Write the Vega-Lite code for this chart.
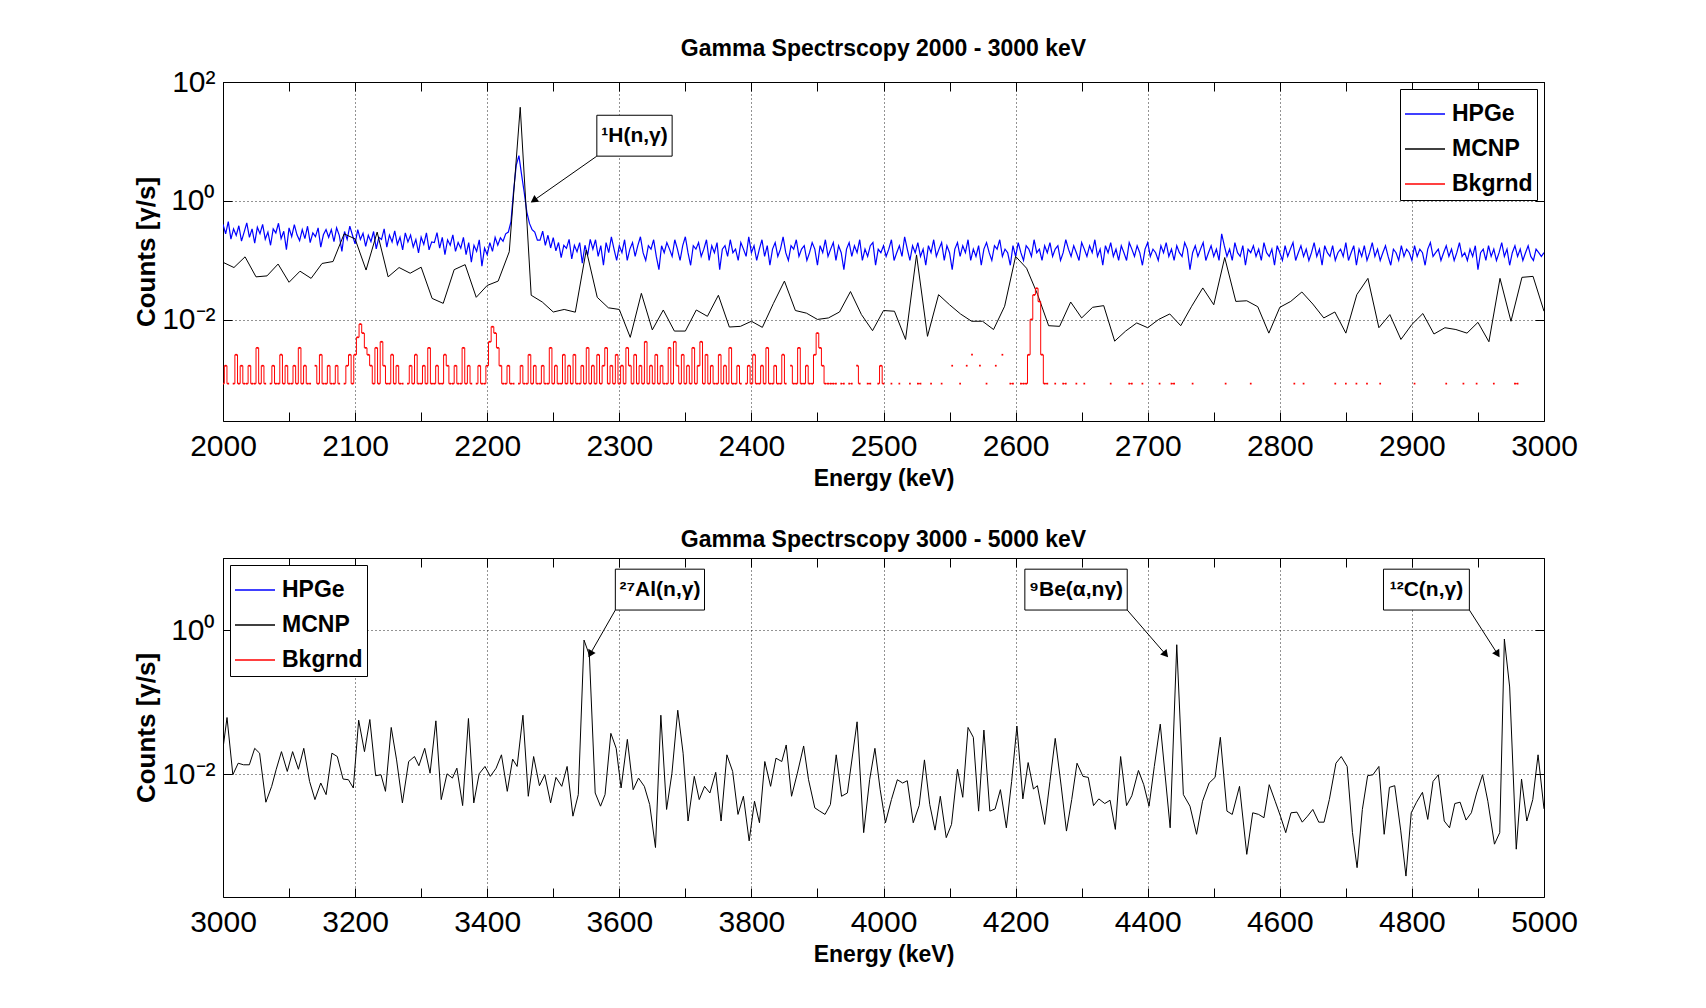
{
"$schema": "https://vega.github.io/schema/vega-lite/v6.json",
"background": "white",
"padding": {"left": 133, "top": 37, "right": 10, "bottom": 10},
"spacing": 37,
"config": {
 "font": "Liberation Sans",
 "view": {"stroke": "#000", "strokeWidth": 1},
 "axis": {"domain": false, "labelFont": "Liberation Sans", "labelFontSize": 30, "labelColor": "#000", "labelFlush": false, "labelOverlap": false, "tickColor": "#000", "tickSize": -9, "tickWidth": 1, "gridColor": "#000", "gridDash": [1, 3], "gridWidth": 1, "titleFont": "Liberation Sans", "titleFontWeight": "bold", "titleFontSize": 23, "titleColor": "#000"},
 "legend": {"title": null, "offset": 7, "strokeColor": "#000", "fillColor": "white", "padding": 4, "symbolType": "stroke", "symbolSize": 1600, "symbolStrokeWidth": 1.5, "labelFont": "Liberation Sans", "labelFontSize": 23, "labelFontWeight": "bold", "labelColor": "#000", "rowPadding": 2, "labelOffset": 6},
 "title": {"font": "Liberation Sans", "fontSize": 23, "fontWeight": "bold", "color": "#000", "offset": 6}
},
"datasets": {
"hpge": [
{"e":2000,"v":0.405},{"e":2002,"v":0.281},{"e":2004,"v":0.451},{"e":2006,"v":0.228},{"e":2008,"v":0.34},{"e":2010,"v":0.263},{"e":2012,"v":0.383},{"e":2014,"v":0.211},{"e":2016,"v":0.30},{"e":2018,"v":0.428},
{"e":2020,"v":0.245},{"e":2022,"v":0.34},{"e":2024,"v":0.195},{"e":2026,"v":0.361},{"e":2028,"v":0.281},{"e":2030,"v":0.405},{"e":2032,"v":0.228},{"e":2034,"v":0.30},{"e":2036,"v":0.18},{"e":2038,"v":0.34},
{"e":2040,"v":0.29},{"e":2042,"v":0.422},{"e":2044,"v":0.233},{"e":2046,"v":0.31},{"e":2048,"v":0.152},{"e":2050,"v":0.353},{"e":2052,"v":0.251},{"e":2054,"v":0.399},{"e":2056,"v":0.27},{"e":2058,"v":0.216},
{"e":2060,"v":0.331},{"e":2062,"v":0.233},{"e":2064,"v":0.376},{"e":2066,"v":0.199},{"e":2068,"v":0.29},{"e":2070,"v":0.251},{"e":2072,"v":0.353},{"e":2074,"v":0.167},{"e":2076,"v":0.27},{"e":2078,"v":0.331},
{"e":2080,"v":0.245},{"e":2082,"v":0.33},{"e":2084,"v":0.207},{"e":2086,"v":0.353},{"e":2088,"v":0.265},{"e":2090,"v":0.142},{"e":2092,"v":0.307},{"e":2094,"v":0.226},{"e":2096,"v":0.377},{"e":2098,"v":0.265},
{"e":2100,"v":0.19},{"e":2102,"v":0.33},{"e":2104,"v":0.226},{"e":2106,"v":0.286},{"e":2108,"v":0.173},{"e":2110,"v":0.265},{"e":2112,"v":0.207},{"e":2114,"v":0.307},{"e":2116,"v":0.157},{"e":2118,"v":0.245},
{"e":2120,"v":0.225},{"e":2122,"v":0.339},{"e":2124,"v":0.168},{"e":2126,"v":0.268},{"e":2128,"v":0.205},{"e":2130,"v":0.314},{"e":2132,"v":0.186},{"e":2134,"v":0.246},{"e":2136,"v":0.151},{"e":2138,"v":0.291},
{"e":2140,"v":0.205},{"e":2142,"v":0.268},{"e":2144,"v":0.168},{"e":2146,"v":0.225},{"e":2148,"v":0.134},{"e":2150,"v":0.246},{"e":2152,"v":0.186},{"e":2154,"v":0.291},{"e":2156,"v":0.151},{"e":2158,"v":0.205},
{"e":2160,"v":0.20},{"e":2162,"v":0.294},{"e":2164,"v":0.161},{"e":2166,"v":0.245},{"e":2168,"v":0.125},{"e":2170,"v":0.222},{"e":2172,"v":0.18},{"e":2174,"v":0.269},{"e":2176,"v":0.142},{"e":2178,"v":0.20},
{"e":2180,"v":0.161},{"e":2182,"v":0.245},{"e":2184,"v":0.125},{"e":2186,"v":0.20},{"e":2188,"v":0.094},{"e":2190,"v":0.18},{"e":2192,"v":0.142},{"e":2194,"v":0.222},{"e":2196,"v":0.08},{"e":2198,"v":0.161},
{"e":2200,"v":0.125},{"e":2202,"v":0.20},{"e":2204,"v":0.142},{"e":2206,"v":0.245},{"e":2208,"v":0.18},{"e":2210,"v":0.24},{"e":2212,"v":0.21},{"e":2214,"v":0.28},{"e":2216,"v":0.30},{"e":2218,"v":0.45},
{"e":2220,"v":1.5},{"e":2222,"v":4.0},{"e":2224,"v":5.8},{"e":2226,"v":2.8},{"e":2228,"v":1.4},{"e":2230,"v":0.65},{"e":2232,"v":0.42},{"e":2234,"v":0.33},{"e":2236,"v":0.30},{"e":2238,"v":0.22},
{"e":2240,"v":0.22},{"e":2242,"v":0.31},{"e":2244,"v":0.18},{"e":2246,"v":0.265},{"e":2248,"v":0.162},{"e":2250,"v":0.242},{"e":2252,"v":0.145},{"e":2254,"v":0.20},{"e":2256,"v":0.112},{"e":2258,"v":0.18},
{"e":2260,"v":0.16},{"e":2262,"v":0.226},{"e":2264,"v":0.106},{"e":2266,"v":0.18},{"e":2268,"v":0.14},{"e":2270,"v":0.20},{"e":2272,"v":0.09},{"e":2274,"v":0.18},{"e":2276,"v":0.122},{"e":2278,"v":0.226},
{"e":2280,"v":0.155},{"e":2282,"v":0.223},{"e":2284,"v":0.117},{"e":2286,"v":0.177},{"e":2288,"v":0.083},{"e":2290,"v":0.20},{"e":2292,"v":0.135},{"e":2294,"v":0.25},{"e":2296,"v":0.155},{"e":2298,"v":0.10},
{"e":2300,"v":0.177},{"e":2302,"v":0.135},{"e":2304,"v":0.223},{"e":2306,"v":0.10},{"e":2308,"v":0.155},{"e":2310,"v":0.20},{"e":2312,"v":0.117},{"e":2314,"v":0.177},{"e":2316,"v":0.25},{"e":2318,"v":0.135},
{"e":2320,"v":0.10},{"e":2322,"v":0.177},{"e":2324,"v":0.155},{"e":2326,"v":0.223},{"e":2328,"v":0.117},{"e":2330,"v":0.07},{"e":2332,"v":0.177},{"e":2334,"v":0.135},{"e":2336,"v":0.20},{"e":2338,"v":0.155},
{"e":2340,"v":0.117},{"e":2342,"v":0.223},{"e":2344,"v":0.155},{"e":2346,"v":0.10},{"e":2348,"v":0.177},{"e":2350,"v":0.25},{"e":2352,"v":0.135},{"e":2354,"v":0.083},{"e":2356,"v":0.177},{"e":2358,"v":0.155},
{"e":2360,"v":0.20},{"e":2362,"v":0.117},{"e":2364,"v":0.155},{"e":2366,"v":0.223},{"e":2368,"v":0.10},{"e":2370,"v":0.177},{"e":2372,"v":0.135},{"e":2374,"v":0.20},{"e":2376,"v":0.07},{"e":2378,"v":0.155},
{"e":2380,"v":0.177},{"e":2382,"v":0.117},{"e":2384,"v":0.223},{"e":2386,"v":0.135},{"e":2388,"v":0.155},{"e":2390,"v":0.10},{"e":2392,"v":0.20},{"e":2394,"v":0.155},{"e":2396,"v":0.117},{"e":2398,"v":0.25},
{"e":2400,"v":0.135},{"e":2402,"v":0.177},{"e":2404,"v":0.10},{"e":2406,"v":0.155},{"e":2408,"v":0.223},{"e":2410,"v":0.117},{"e":2412,"v":0.177},{"e":2414,"v":0.083},{"e":2416,"v":0.155},{"e":2418,"v":0.20},
{"e":2420,"v":0.117},{"e":2422,"v":0.155},{"e":2424,"v":0.25},{"e":2426,"v":0.135},{"e":2428,"v":0.10},{"e":2430,"v":0.177},{"e":2432,"v":0.155},{"e":2434,"v":0.223},{"e":2436,"v":0.117},{"e":2438,"v":0.155},
{"e":2440,"v":0.177},{"e":2442,"v":0.10},{"e":2444,"v":0.135},{"e":2446,"v":0.20},{"e":2448,"v":0.155},{"e":2450,"v":0.083},{"e":2452,"v":0.177},{"e":2454,"v":0.135},{"e":2456,"v":0.223},{"e":2458,"v":0.117},
{"e":2460,"v":0.155},{"e":2462,"v":0.20},{"e":2464,"v":0.10},{"e":2466,"v":0.177},{"e":2468,"v":0.135},{"e":2470,"v":0.07},{"e":2472,"v":0.155},{"e":2474,"v":0.20},{"e":2476,"v":0.117},{"e":2478,"v":0.177},
{"e":2480,"v":0.135},{"e":2482,"v":0.223},{"e":2484,"v":0.10},{"e":2486,"v":0.155},{"e":2488,"v":0.117},{"e":2490,"v":0.177},{"e":2492,"v":0.20},{"e":2494,"v":0.083},{"e":2496,"v":0.155},{"e":2498,"v":0.135},
{"e":2500,"v":0.177},{"e":2502,"v":0.117},{"e":2504,"v":0.155},{"e":2506,"v":0.223},{"e":2508,"v":0.10},{"e":2510,"v":0.135},{"e":2512,"v":0.177},{"e":2514,"v":0.117},{"e":2516,"v":0.25},{"e":2518,"v":0.155},
{"e":2520,"v":0.10},{"e":2522,"v":0.177},{"e":2524,"v":0.135},{"e":2526,"v":0.20},{"e":2528,"v":0.117},{"e":2530,"v":0.155},{"e":2532,"v":0.083},{"e":2534,"v":0.177},{"e":2536,"v":0.135},{"e":2538,"v":0.223},
{"e":2540,"v":0.117},{"e":2542,"v":0.155},{"e":2544,"v":0.20},{"e":2546,"v":0.10},{"e":2548,"v":0.177},{"e":2550,"v":0.135},{"e":2552,"v":0.07},{"e":2554,"v":0.155},{"e":2556,"v":0.20},{"e":2558,"v":0.117},
{"e":2560,"v":0.177},{"e":2562,"v":0.135},{"e":2564,"v":0.223},{"e":2566,"v":0.10},{"e":2568,"v":0.155},{"e":2570,"v":0.117},{"e":2572,"v":0.177},{"e":2574,"v":0.083},{"e":2576,"v":0.155},{"e":2578,"v":0.20},
{"e":2580,"v":0.135},{"e":2582,"v":0.10},{"e":2584,"v":0.177},{"e":2586,"v":0.155},{"e":2588,"v":0.223},{"e":2590,"v":0.117},{"e":2592,"v":0.155},{"e":2594,"v":0.135},{"e":2596,"v":0.083},{"e":2598,"v":0.177},
{"e":2600,"v":0.117},{"e":2602,"v":0.20},{"e":2604,"v":0.135},{"e":2606,"v":0.10},{"e":2608,"v":0.177},{"e":2610,"v":0.155},{"e":2612,"v":0.117},{"e":2614,"v":0.223},{"e":2616,"v":0.135},{"e":2618,"v":0.155},
{"e":2620,"v":0.10},{"e":2622,"v":0.177},{"e":2624,"v":0.135},{"e":2626,"v":0.20},{"e":2628,"v":0.117},{"e":2630,"v":0.155},{"e":2632,"v":0.177},{"e":2634,"v":0.10},{"e":2636,"v":0.135},{"e":2638,"v":0.223},
{"e":2640,"v":0.155},{"e":2642,"v":0.117},{"e":2644,"v":0.177},{"e":2646,"v":0.135},{"e":2648,"v":0.10},{"e":2650,"v":0.20},{"e":2652,"v":0.155},{"e":2654,"v":0.117},{"e":2656,"v":0.177},{"e":2658,"v":0.135},
{"e":2660,"v":0.223},{"e":2662,"v":0.117},{"e":2664,"v":0.155},{"e":2666,"v":0.083},{"e":2668,"v":0.177},{"e":2670,"v":0.135},{"e":2672,"v":0.20},{"e":2674,"v":0.117},{"e":2676,"v":0.155},{"e":2678,"v":0.10},
{"e":2680,"v":0.177},{"e":2682,"v":0.135},{"e":2684,"v":0.10},{"e":2686,"v":0.20},{"e":2688,"v":0.155},{"e":2690,"v":0.117},{"e":2692,"v":0.177},{"e":2694,"v":0.135},{"e":2696,"v":0.083},{"e":2698,"v":0.155},
{"e":2700,"v":0.20},{"e":2702,"v":0.117},{"e":2704,"v":0.155},{"e":2706,"v":0.135},{"e":2708,"v":0.10},{"e":2710,"v":0.177},{"e":2712,"v":0.135},{"e":2714,"v":0.20},{"e":2716,"v":0.117},{"e":2718,"v":0.155},
{"e":2720,"v":0.10},{"e":2722,"v":0.177},{"e":2724,"v":0.135},{"e":2726,"v":0.117},{"e":2728,"v":0.20},{"e":2730,"v":0.155},{"e":2732,"v":0.07},{"e":2734,"v":0.135},{"e":2736,"v":0.177},{"e":2738,"v":0.117},
{"e":2740,"v":0.155},{"e":2742,"v":0.20},{"e":2744,"v":0.10},{"e":2746,"v":0.135},{"e":2748,"v":0.177},{"e":2750,"v":0.117},{"e":2752,"v":0.155},{"e":2754,"v":0.10},{"e":2756,"v":0.28},{"e":2758,"v":0.177},
{"e":2760,"v":0.117},{"e":2762,"v":0.155},{"e":2764,"v":0.10},{"e":2766,"v":0.20},{"e":2768,"v":0.135},{"e":2770,"v":0.117},{"e":2772,"v":0.177},{"e":2774,"v":0.083},{"e":2776,"v":0.155},{"e":2778,"v":0.135},
{"e":2780,"v":0.177},{"e":2782,"v":0.117},{"e":2784,"v":0.155},{"e":2786,"v":0.10},{"e":2788,"v":0.20},{"e":2790,"v":0.135},{"e":2792,"v":0.117},{"e":2794,"v":0.155},{"e":2796,"v":0.083},{"e":2798,"v":0.177},
{"e":2800,"v":0.135},{"e":2802,"v":0.10},{"e":2804,"v":0.177},{"e":2806,"v":0.117},{"e":2808,"v":0.155},{"e":2810,"v":0.20},{"e":2812,"v":0.10},{"e":2814,"v":0.135},{"e":2816,"v":0.177},{"e":2818,"v":0.117},
{"e":2820,"v":0.155},{"e":2822,"v":0.10},{"e":2824,"v":0.135},{"e":2826,"v":0.20},{"e":2828,"v":0.117},{"e":2830,"v":0.155},{"e":2832,"v":0.083},{"e":2834,"v":0.177},{"e":2836,"v":0.135},{"e":2838,"v":0.117},
{"e":2840,"v":0.177},{"e":2842,"v":0.10},{"e":2844,"v":0.135},{"e":2846,"v":0.155},{"e":2848,"v":0.117},{"e":2850,"v":0.20},{"e":2852,"v":0.10},{"e":2854,"v":0.135},{"e":2856,"v":0.177},{"e":2858,"v":0.083},
{"e":2860,"v":0.155},{"e":2862,"v":0.117},{"e":2864,"v":0.177},{"e":2866,"v":0.10},{"e":2868,"v":0.135},{"e":2870,"v":0.20},{"e":2872,"v":0.117},{"e":2874,"v":0.155},{"e":2876,"v":0.10},{"e":2878,"v":0.135},
{"e":2880,"v":0.177},{"e":2882,"v":0.117},{"e":2884,"v":0.083},{"e":2886,"v":0.155},{"e":2888,"v":0.135},{"e":2890,"v":0.10},{"e":2892,"v":0.177},{"e":2894,"v":0.117},{"e":2896,"v":0.155},{"e":2898,"v":0.135},
{"e":2900,"v":0.10},{"e":2902,"v":0.177},{"e":2904,"v":0.117},{"e":2906,"v":0.155},{"e":2908,"v":0.135},{"e":2910,"v":0.083},{"e":2912,"v":0.155},{"e":2914,"v":0.20},{"e":2916,"v":0.117},{"e":2918,"v":0.135},
{"e":2920,"v":0.155},{"e":2922,"v":0.10},{"e":2924,"v":0.135},{"e":2926,"v":0.177},{"e":2928,"v":0.117},{"e":2930,"v":0.155},{"e":2932,"v":0.10},{"e":2934,"v":0.135},{"e":2936,"v":0.20},{"e":2938,"v":0.117},
{"e":2940,"v":0.135},{"e":2942,"v":0.10},{"e":2944,"v":0.155},{"e":2946,"v":0.117},{"e":2948,"v":0.177},{"e":2950,"v":0.07},{"e":2952,"v":0.135},{"e":2954,"v":0.155},{"e":2956,"v":0.10},{"e":2958,"v":0.177},
{"e":2960,"v":0.117},{"e":2962,"v":0.155},{"e":2964,"v":0.10},{"e":2966,"v":0.135},{"e":2968,"v":0.20},{"e":2970,"v":0.117},{"e":2972,"v":0.155},{"e":2974,"v":0.083},{"e":2976,"v":0.135},{"e":2978,"v":0.177},
{"e":2980,"v":0.117},{"e":2982,"v":0.155},{"e":2984,"v":0.10},{"e":2986,"v":0.135},{"e":2988,"v":0.177},{"e":2990,"v":0.117},{"e":2992,"v":0.10},{"e":2994,"v":0.155},{"e":2996,"v":0.135},{"e":2998,"v":0.117},
{"e":3000,"v":0.135}
],
"mcnp1": [
{"e":2000,"v":0.093},{"e":2008.3,"v":0.076},{"e":2016.7,"v":0.115},{"e":2025,"v":0.053},{"e":2033.3,"v":0.055},{"e":2041.7,"v":0.087},{"e":2050,"v":0.043},{"e":2058.3,"v":0.066},{"e":2066.7,"v":0.050},{"e":2075,"v":0.089},
{"e":2083.3,"v":0.096},{"e":2091.7,"v":0.28},{"e":2100,"v":0.23},{"e":2108.3,"v":0.069},{"e":2116.7,"v":0.30},{"e":2125,"v":0.053},{"e":2133.3,"v":0.076},{"e":2141.7,"v":0.061},{"e":2150,"v":0.077},{"e":2158.3,"v":0.023},
{"e":2166.7,"v":0.019},{"e":2175,"v":0.070},{"e":2183.3,"v":0.085},{"e":2191.7,"v":0.024},{"e":2200,"v":0.038},{"e":2208.3,"v":0.045},{"e":2216.7,"v":0.14},{"e":2225,"v":37.6},{"e":2233.3,"v":0.026},{"e":2241.7,"v":0.020},
{"e":2250,"v":0.0136},{"e":2258.3,"v":0.015},{"e":2266.7,"v":0.0135},{"e":2275,"v":0.15},{"e":2283.3,"v":0.024},{"e":2291.7,"v":0.016},{"e":2300,"v":0.015},{"e":2308.3,"v":0.0051},{"e":2316.7,"v":0.028},{"e":2325,"v":0.0068},
{"e":2333.3,"v":0.0147},{"e":2341.7,"v":0.0065},{"e":2350,"v":0.0065},{"e":2358.3,"v":0.0147},{"e":2366.7,"v":0.0115},{"e":2375,"v":0.026},{"e":2383.3,"v":0.0076},{"e":2391.7,"v":0.0078},{"e":2400,"v":0.0095},{"e":2408.3,"v":0.0075},
{"e":2416.7,"v":0.019},{"e":2425,"v":0.045},{"e":2433.3,"v":0.0144},{"e":2441.7,"v":0.013},{"e":2450,"v":0.0102},{"e":2458.3,"v":0.0108},{"e":2466.7,"v":0.0136},{"e":2475,"v":0.030},{"e":2483.3,"v":0.0123},{"e":2491.7,"v":0.0066},
{"e":2500,"v":0.0144},{"e":2508.3,"v":0.014},{"e":2516.7,"v":0.0047},{"e":2525,"v":0.124},{"e":2533.3,"v":0.0053},{"e":2541.7,"v":0.0266},{"e":2550,"v":0.018},{"e":2558.3,"v":0.0126},{"e":2566.7,"v":0.0095},{"e":2575,"v":0.0095},
{"e":2583.3,"v":0.0069},{"e":2591.7,"v":0.017},{"e":2600,"v":0.117},{"e":2608.3,"v":0.074},{"e":2616.7,"v":0.0266},{"e":2625,"v":0.008},{"e":2633.3,"v":0.0078},{"e":2641.7,"v":0.020},{"e":2650,"v":0.0108},{"e":2658.3,"v":0.0163},
{"e":2666.7,"v":0.0174},{"e":2675,"v":0.0044},{"e":2683.3,"v":0.0065},{"e":2691.7,"v":0.0089},{"e":2700,"v":0.0074},{"e":2708.3,"v":0.0102},{"e":2716.7,"v":0.0126},{"e":2725,"v":0.008},{"e":2733.3,"v":0.017},{"e":2741.7,"v":0.0345},
{"e":2750,"v":0.018},{"e":2758.3,"v":0.112},{"e":2766.7,"v":0.0205},{"e":2775,"v":0.021},{"e":2783.3,"v":0.0167},{"e":2791.7,"v":0.006},{"e":2800,"v":0.0163},{"e":2808.3,"v":0.0205},{"e":2816.7,"v":0.0295},{"e":2825,"v":0.0185},
{"e":2833.3,"v":0.0108},{"e":2841.7,"v":0.0136},{"e":2850,"v":0.006},{"e":2858.3,"v":0.0266},{"e":2866.7,"v":0.050},{"e":2875,"v":0.0074},{"e":2883.3,"v":0.0123},{"e":2891.7,"v":0.0047},{"e":2900,"v":0.0084},{"e":2908.3,"v":0.0128},
{"e":2916.7,"v":0.0058},{"e":2925,"v":0.0074},{"e":2933.3,"v":0.0069},{"e":2941.7,"v":0.006},{"e":2950,"v":0.0091},{"e":2958.3,"v":0.0043},{"e":2966.7,"v":0.050},{"e":2975,"v":0.0095},{"e":2983.3,"v":0.052},{"e":2991.7,"v":0.054},
{"e":3000,"v":0.014}
],
"bkg": [
{"e":2000,"v":0.00085},{"e":2002,"v":0.0017},{"e":2004,"v":0.00085},{"e":2006,"v":null},{"e":2008,"v":0.00085},{"e":2010,"v":0.0026},{"e":2012,"v":0.00085},{"e":2014,"v":0.0017},{"e":2016,"v":0.00085},{"e":2018,"v":0.00085},
{"e":2020,"v":0.0017},{"e":2022,"v":0.00085},{"e":2024,"v":0.00085},{"e":2026,"v":0.0034},{"e":2028,"v":0.00085},{"e":2030,"v":0.0017},{"e":2032,"v":0.00085},{"e":2034,"v":null},{"e":2036,"v":0.00085},{"e":2038,"v":0.0017},
{"e":2040,"v":0.00085},{"e":2042,"v":0.00085},{"e":2044,"v":0.0026},{"e":2046,"v":0.00085},{"e":2048,"v":0.0017},{"e":2050,"v":0.00085},{"e":2052,"v":0.00085},{"e":2054,"v":0.0017},{"e":2056,"v":0.00085},{"e":2058,"v":0.0034},
{"e":2060,"v":0.00085},{"e":2062,"v":0.0017},{"e":2064,"v":0.00085},{"e":2066,"v":0.00085},{"e":2068,"v":null},{"e":2070,"v":0.0017},{"e":2072,"v":0.00085},{"e":2074,"v":0.0026},{"e":2076,"v":0.00085},{"e":2078,"v":0.00085},
{"e":2080,"v":0.0017},{"e":2082,"v":0.00085},{"e":2084,"v":0.00085},{"e":2086,"v":0.0017},{"e":2088,"v":0.00085},{"e":2090,"v":null},{"e":2092,"v":0.00085},{"e":2094,"v":0.0017},{"e":2096,"v":0.0026},{"e":2098,"v":0.00085},
{"e":2100,"v":0.0026},{"e":2102,"v":0.0051},{"e":2104,"v":0.0085},{"e":2106,"v":0.006},{"e":2108,"v":0.0034},{"e":2110,"v":0.0026},{"e":2112,"v":0.0017},{"e":2114,"v":0.00085},{"e":2116,"v":0.0034},{"e":2118,"v":0.00085},
{"e":2120,"v":0.0043},{"e":2122,"v":0.0017},{"e":2124,"v":0.00085},{"e":2126,"v":0.00085},{"e":2128,"v":0.0026},{"e":2130,"v":0.00085},{"e":2132,"v":0.0017},{"e":2134,"v":0.00085},{"e":2136,"v":0.00085},{"e":2138,"v":null},
{"e":2140,"v":0.00085},{"e":2142,"v":0.0017},{"e":2144,"v":0.00085},{"e":2146,"v":0.0026},{"e":2148,"v":0.00085},{"e":2150,"v":0.00085},{"e":2152,"v":0.0017},{"e":2154,"v":0.00085},{"e":2156,"v":0.0034},{"e":2158,"v":0.00085},
{"e":2160,"v":0.00085},{"e":2162,"v":0.0017},{"e":2164,"v":0.00085},{"e":2166,"v":0.00085},{"e":2168,"v":0.0026},{"e":2170,"v":0.0017},{"e":2172,"v":0.00085},{"e":2174,"v":0.00085},{"e":2176,"v":0.0017},{"e":2178,"v":0.00085},
{"e":2180,"v":0.00085},{"e":2182,"v":0.0034},{"e":2184,"v":0.00085},{"e":2186,"v":0.0017},{"e":2188,"v":0.00085},{"e":2190,"v":null},{"e":2192,"v":0.00085},{"e":2194,"v":0.0017},{"e":2196,"v":0.00085},{"e":2198,"v":0.00085},
{"e":2200,"v":0.0017},{"e":2202,"v":0.0043},{"e":2204,"v":0.0077},{"e":2206,"v":0.006},{"e":2208,"v":0.0034},{"e":2210,"v":0.0017},{"e":2212,"v":0.00085},{"e":2214,"v":0.00085},{"e":2216,"v":0.0017},{"e":2218,"v":0.00085},
{"e":2220,"v":0.00085},{"e":2222,"v":null},{"e":2224,"v":0.00085},{"e":2226,"v":0.0017},{"e":2228,"v":0.00085},{"e":2230,"v":0.00085},{"e":2232,"v":0.0026},{"e":2234,"v":0.00085},{"e":2236,"v":0.0017},{"e":2238,"v":0.00085},
{"e":2240,"v":0.00085},{"e":2242,"v":0.0017},{"e":2244,"v":0.00085},{"e":2246,"v":0.00085},{"e":2248,"v":0.0034},{"e":2250,"v":0.00085},{"e":2252,"v":0.0017},{"e":2254,"v":0.00085},{"e":2256,"v":0.00085},{"e":2258,"v":0.0026},
{"e":2260,"v":0.00085},{"e":2262,"v":0.0017},{"e":2264,"v":0.00085},{"e":2266,"v":0.0026},{"e":2268,"v":0.00085},{"e":2270,"v":0.00085},{"e":2272,"v":0.0017},{"e":2274,"v":0.00085},{"e":2276,"v":0.0034},{"e":2278,"v":0.00085},
{"e":2280,"v":0.0017},{"e":2282,"v":0.00085},{"e":2284,"v":0.0026},{"e":2286,"v":0.00085},{"e":2288,"v":0.0017},{"e":2290,"v":0.0034},{"e":2292,"v":0.00085},{"e":2294,"v":0.0017},{"e":2296,"v":0.00085},{"e":2298,"v":0.0026},
{"e":2300,"v":0.00085},{"e":2302,"v":0.0017},{"e":2304,"v":0.00085},{"e":2306,"v":0.0034},{"e":2308,"v":0.0017},{"e":2310,"v":0.00085},{"e":2312,"v":0.0026},{"e":2314,"v":0.00085},{"e":2316,"v":0.0017},{"e":2318,"v":0.00085},
{"e":2320,"v":0.0043},{"e":2322,"v":0.00085},{"e":2324,"v":0.0017},{"e":2326,"v":0.00085},{"e":2328,"v":0.0026},{"e":2330,"v":0.00085},{"e":2332,"v":0.0017},{"e":2334,"v":0.00085},{"e":2336,"v":0.00085},{"e":2338,"v":0.0034},
{"e":2340,"v":0.00085},{"e":2342,"v":0.0043},{"e":2344,"v":0.0017},{"e":2346,"v":0.00085},{"e":2348,"v":0.0026},{"e":2350,"v":0.00085},{"e":2352,"v":0.0017},{"e":2354,"v":0.00085},{"e":2356,"v":0.0034},{"e":2358,"v":0.00085},
{"e":2360,"v":0.0017},{"e":2362,"v":0.0043},{"e":2364,"v":0.00085},{"e":2366,"v":0.0026},{"e":2368,"v":0.00085},{"e":2370,"v":0.0017},{"e":2372,"v":0.00085},{"e":2374,"v":0.00085},{"e":2376,"v":0.0026},{"e":2378,"v":0.00085},
{"e":2380,"v":0.0017},{"e":2382,"v":0.00085},{"e":2384,"v":0.0034},{"e":2386,"v":0.00085},{"e":2388,"v":0.00085},{"e":2390,"v":0.0017},{"e":2392,"v":0.00085},{"e":2394,"v":null},{"e":2396,"v":0.00085},{"e":2398,"v":0.0017},
{"e":2400,"v":0.00085},{"e":2402,"v":0.0026},{"e":2404,"v":0.00085},{"e":2406,"v":0.00085},{"e":2408,"v":0.0017},{"e":2410,"v":0.00085},{"e":2412,"v":0.0034},{"e":2414,"v":0.00085},{"e":2416,"v":0.00085},{"e":2418,"v":0.0017},
{"e":2420,"v":0.00085},{"e":2422,"v":0.00085},{"e":2424,"v":0.0026},{"e":2426,"v":0.00085},{"e":2428,"v":null},{"e":2430,"v":0.0017},{"e":2432,"v":0.00085},{"e":2434,"v":0.00085},{"e":2436,"v":0.0034},{"e":2438,"v":0.00085},
{"e":2440,"v":0.00085},{"e":2442,"v":0.0017},{"e":2444,"v":0.00085},{"e":2446,"v":0.00085},{"e":2448,"v":0.0026},{"e":2450,"v":0.006},{"e":2452,"v":0.0034},{"e":2454,"v":0.0017},{"e":2456,"v":0.00085},{"e":2458,"v":0.00085},
{"e":2460,"v":0.00085},{"e":2462,"v":0.00085},{"e":2464,"v":0.00085},{"e":2466,"v":null},{"e":2468,"v":0.00085},{"e":2470,"v":0.00085},{"e":2472,"v":null},{"e":2474,"v":0.00085},{"e":2476,"v":0.00085},{"e":2478,"v":null},
{"e":2480,"v":0.0017},{"e":2482,"v":0.00085},{"e":2484,"v":null},{"e":2488,"v":0.00085},{"e":2490,"v":0.00085},{"e":2492,"v":null},{"e":2496,"v":0.00085},{"e":2498,"v":0.0017},{"e":2500,"v":0.00085},{"e":2502,"v":null},
{"e":2506,"v":0.00085},{"e":2508,"v":null},{"e":2512,"v":0.00085},{"e":2514,"v":null},{"e":2520,"v":0.00085},{"e":2522,"v":null},{"e":2526,"v":0.00085},{"e":2528,"v":0.00085},{"e":2530,"v":null},{"e":2536,"v":0.00085},
{"e":2538,"v":null},{"e":2544,"v":0.00085},{"e":2546,"v":null},{"e":2552,"v":0.0017},{"e":2554,"v":null},{"e":2558,"v":0.00085},{"e":2560,"v":null},{"e":2563,"v":0.0017},{"e":2565,"v":null},{"e":2567,"v":0.0026},
{"e":2569,"v":null},{"e":2573,"v":0.0017},{"e":2575,"v":null},{"e":2578,"v":0.00085},{"e":2580,"v":null},{"e":2585,"v":0.0017},{"e":2587,"v":null},{"e":2590,"v":0.0026},{"e":2592,"v":null},{"e":2596,"v":0.00085},
{"e":2598,"v":0.00085},{"e":2600,"v":null},{"e":2604,"v":0.00085},{"e":2606,"v":0.00085},{"e":2608,"v":0.00085},{"e":2610,"v":0.0026},{"e":2612,"v":0.0102},{"e":2614,"v":0.0264},{"e":2616,"v":0.034},{"e":2618,"v":0.0204},
{"e":2620,"v":0.0026},{"e":2622,"v":0.00085},{"e":2624,"v":0.00085},{"e":2626,"v":null},{"e":2630,"v":0.00085},{"e":2632,"v":null},{"e":2636,"v":0.00085},{"e":2638,"v":0.00085},{"e":2640,"v":null},{"e":2646,"v":0.00085},
{"e":2648,"v":null},{"e":2652,"v":0.00085},{"e":2654,"v":null},{"e":2672,"v":0.00085},{"e":2674,"v":null},{"e":2686,"v":0.00085},{"e":2688,"v":0.00085},{"e":2690,"v":null},{"e":2696,"v":0.00085},{"e":2698,"v":null},
{"e":2709,"v":0.00085},{"e":2711,"v":null},{"e":2718,"v":0.00085},{"e":2720,"v":0.00085},{"e":2722,"v":null},{"e":2734,"v":0.00085},{"e":2736,"v":null},{"e":2759,"v":0.00085},{"e":2761,"v":null},{"e":2778,"v":0.00085},
{"e":2780,"v":null},{"e":2811,"v":0.00085},{"e":2813,"v":null},{"e":2818,"v":0.00085},{"e":2820,"v":null},{"e":2842,"v":0.00085},{"e":2844,"v":null},{"e":2850,"v":0.00085},{"e":2852,"v":null},{"e":2858,"v":0.00085},
{"e":2860,"v":null},{"e":2866,"v":0.00085},{"e":2868,"v":null},{"e":2876,"v":0.00085},{"e":2878,"v":null},{"e":2902,"v":0.00085},{"e":2904,"v":null},{"e":2926,"v":0.00085},{"e":2928,"v":null},{"e":2939,"v":0.00085},
{"e":2941,"v":null},{"e":2949,"v":0.00085},{"e":2951,"v":null},{"e":2962,"v":0.00085},{"e":2964,"v":null},{"e":2978,"v":0.00085},{"e":2980,"v":0.00085},{"e":2982,"v":null}
],
"mcnp2": [
{"e":3000,"v":0.023},{"e":3006.1,"v":0.0615},{"e":3014.9,"v":0.00989},{"e":3023,"v":0.0143},{"e":3031.1,"v":0.0136},{"e":3039.9,"v":0.0136},{"e":3048,"v":0.023},{"e":3055.4,"v":0.0197},{"e":3064.9,"v":0.00412},{"e":3073.7,"v":0.00684},
{"e":3080.4,"v":0.0116},{"e":3088.5,"v":0.0207},{"e":3097.3,"v":0.011},{"e":3105.4,"v":0.0207},{"e":3114.2,"v":0.0118},{"e":3122.3,"v":0.023},{"e":3131.1,"v":0.008},{"e":3139.2,"v":0.00448},{"e":3148,"v":0.0076},{"e":3156.1,"v":0.00525},
{"e":3164.9,"v":0.0197},{"e":3173,"v":0.0177},{"e":3181.8,"v":0.00863},{"e":3189.9,"v":0.00845},{"e":3197.3,"v":0.00649},{"e":3205.4,"v":0.0565},{"e":3214.2,"v":0.0207},{"e":3222.3,"v":0.0577},{"e":3231.1,"v":0.0096},{"e":3239.2,"v":0.0099},
{"e":3246,"v":0.00583},{"e":3254.7,"v":0.0448},{"e":3262.8,"v":0.0159},{"e":3271.6,"v":0.00403},{"e":3281.1,"v":0.0151},{"e":3289.9,"v":0.0177},{"e":3296.6,"v":0.0132},{"e":3305.4,"v":0.023},{"e":3313.5,"v":0.0104},{"e":3322.3,"v":0.0553},
{"e":3330.4,"v":0.00448},{"e":3339.2,"v":0.0102},{"e":3347.3,"v":0.0089},{"e":3354.1,"v":0.0122},{"e":3362.8,"v":0.0037},{"e":3371.6,"v":0.0596},{"e":3379.7,"v":0.00403},{"e":3387.8,"v":0.0102},{"e":3396.6,"v":0.0129},{"e":3404.7,"v":0.0094},
{"e":3413.5,"v":0.0122},{"e":3421.6,"v":0.0187},{"e":3430.4,"v":0.00583},{"e":3438.5,"v":0.0163},{"e":3445.3,"v":0.0129},{"e":3454.1,"v":0.0662},{"e":3462.2,"v":0.00498},{"e":3470.3,"v":0.0177},{"e":3479.1,"v":0.00698},{"e":3487.2,"v":0.0099},
{"e":3496,"v":0.00403},{"e":3504.1,"v":0.0091},{"e":3512.9,"v":0.00684},{"e":3521,"v":0.0129},{"e":3529.8,"v":0.00264},{"e":3537.9,"v":0.00525},{"e":3546.6,"v":0.728},{"e":3554.7,"v":0.45},{"e":3563.5,"v":0.00553},{"e":3571.6,"v":0.00363},
{"e":3578.4,"v":0.00525},{"e":3587.2,"v":0.0371},{"e":3595.3,"v":0.023},{"e":3602.7,"v":0.00649},{"e":3612.2,"v":0.0306},{"e":3621,"v":0.00615},{"e":3629.1,"v":0.0089},{"e":3637.9,"v":0.00684},{"e":3646,"v":0.00383},{"e":3654.8,"v":0.00097},
{"e":3662.9,"v":0.0662},{"e":3671.6,"v":0.00327},{"e":3679.7,"v":0.0104},{"e":3688.5,"v":0.0776},{"e":3696.6,"v":0.0197},{"e":3704.1,"v":0.00226},{"e":3713.5,"v":0.0094},{"e":3721,"v":0.00448},{"e":3729.1,"v":0.00684},{"e":3737.2,"v":0.00553},
{"e":3746,"v":0.0107},{"e":3754.1,"v":0.00226},{"e":3762.9,"v":0.0187},{"e":3771.6,"v":0.011},{"e":3779.7,"v":0.00279},{"e":3787.9,"v":0.00498},{"e":3796.6,"v":0.0012},{"e":3804.7,"v":0.00425},{"e":3812.2,"v":0.00214},{"e":3820.3,"v":0.0151},
{"e":3829.1,"v":0.00684},{"e":3837.2,"v":0.0168},{"e":3846,"v":0.0151},{"e":3852.7,"v":0.0256},{"e":3860.8,"v":0.00498},{"e":3869.6,"v":0.0104},{"e":3879.1,"v":0.0248},{"e":3886.5,"v":0.00845},{"e":3896,"v":0.00344},{"e":3903.4,"v":0.0031},
{"e":3911.5,"v":0.00279},{"e":3919.6,"v":0.00383},{"e":3928.4,"v":0.0187},{"e":3936.5,"v":0.00498},{"e":3945.3,"v":0.00553},
{"e":3960,"v":0.0536},{"e":3970,"v":0.00156},{"e":3979,"v":0.00845},{"e":3987,"v":0.023},{"e":3995,"v":0.00615},{"e":4003,"v":0.00214},{"e":4012,"v":0.00448},{"e":4021,"v":0.00845},{"e":4029,"v":0.0076},{"e":4036,"v":0.00818},
{"e":4045,"v":0.00214},{"e":4054,"v":0.0037},{"e":4062,"v":0.0159},{"e":4070,"v":0.00383},{"e":4078,"v":0.00169},{"e":4086,"v":0.00498},{"e":4095,"v":0.00133},{"e":4103,"v":0.00203},{"e":4112,"v":0.0118},{"e":4120,"v":0.00482},
{"e":4128,"v":0.0448},{"e":4136,"v":0.0327},{"e":4144,"v":0.0031},{"e":4152,"v":0.0412},{"e":4161,"v":0.0031},{"e":4169,"v":0.00333},{"e":4177,"v":0.00615},{"e":4186,"v":0.00182},{"e":4194,"v":0.008},{"e":4202,"v":0.0468},
{"e":4211,"v":0.00458},{"e":4219,"v":0.0146},{"e":4227,"v":0.00628},{"e":4233,"v":0.00698},{"e":4244,"v":0.00203},{"e":4252,"v":0.008},{"e":4260,"v":0.0316},{"e":4269,"v":0.0069},{"e":4277,"v":0.00164},{"e":4285,"v":0.0045},
{"e":4293,"v":0.0143},{"e":4302,"v":0.0094},{"e":4310,"v":0.0091},{"e":4318,"v":0.0037},{"e":4326,"v":0.00458},{"e":4335,"v":0.00395},{"e":4343,"v":0.00439},{"e":4351,"v":0.00173},{"e":4359,"v":0.0177},{"e":4368,"v":0.0037},
{"e":4376,"v":0.00508},{"e":4386,"v":0.01135},{"e":4394,"v":0.00721},{"e":4402,"v":0.00363},{"e":4410,"v":0.0129},{"e":4419,"v":0.0498},{"e":4434,"v":0.00182},{"e":4444,"v":0.628},{"e":4454,"v":0.00525},{"e":4464,"v":0.00363},
{"e":4474,"v":0.00148},{"e":4483,"v":0.00425},{"e":4493,"v":0.0076},{"e":4502,"v":0.0091},{"e":4510,"v":0.0327},{"e":4520,"v":0.0031},{"e":4528,"v":0.00279},{"e":4539,"v":0.00684},{"e":4550,"v":0.00078},{"e":4559,"v":0.00294},
{"e":4568,"v":0.00279},{"e":4576,"v":0.00251},{"e":4584,"v":0.00721},{"e":4593,"v":0.00425},{"e":4601,"v":0.00264},{"e":4609,"v":0.00156},{"e":4617,"v":0.00294},{"e":4626,"v":0.003},{"e":4634,"v":0.00218},{"e":4642,"v":0.00264},
{"e":4650,"v":0.00327},{"e":4659,"v":0.00218},{"e":4667,"v":0.00218},{"e":4675,"v":0.00448},{"e":4685,"v":0.0143},{"e":4693,"v":0.0177},{"e":4702,"v":0.0129},{"e":4710,"v":0.00156},{"e":4717,"v":0.00051},{"e":4725,"v":0.00327},
{"e":4733,"v":0.0096},{"e":4741,"v":0.00989},{"e":4750,"v":0.0129},{"e":4758,"v":0.00148},{"e":4766,"v":0.00662},{"e":4774,"v":0.00698},{"e":4783,"v":0.00169},{"e":4791,"v":0.00039},{"e":4799,"v":0.00294},{"e":4807,"v":0.00412},
{"e":4816,"v":0.00565},{"e":4824,"v":0.00238},{"e":4832,"v":0.008},{"e":4840,"v":0.00989},{"e":4849,"v":0.00226},{"e":4857,"v":0.00182},{"e":4865,"v":0.00395},{"e":4873,"v":0.00412},{"e":4882,"v":0.00233},{"e":4890,"v":0.00294},
{"e":4898,"v":0.00553},{"e":4907,"v":0.00989},{"e":4915,"v":0.00425},{"e":4925,"v":0.00108},{"e":4933,"v":0.00156},{"e":4940,"v":0.752},{"e":4948,"v":0.163},{"e":4958,"v":0.00092},{"e":4966,"v":0.00863},{"e":4974,"v":0.00226},
{"e":4983,"v":0.00448},{"e":4991,"v":0.0187},{"e":5000,"v":0.00333}
],
"ann1": [{"t":"¹H(n,γ)","x1":2283,"x2":2340,"y1":5.67,"y2":27.6,"xm":2311.5,"ym":12.5,"sx":2283,"tx":2236,"ty":1.05}],
"ann2": [
{"t":"²⁷Al(n,γ)","x1":3594,"x2":3729,"y1":1.9,"y2":7.0,"xm":3661.5,"ym":3.65,"sx":3594,"tx":3556.8,"ty":0.482},
{"t":"⁹Be(α,nγ)","x1":4214,"x2":4369,"y1":1.9,"y2":7.0,"xm":4291.5,"ym":3.65,"sx":4369,"tx":4426.1,"ty":0.473},
{"t":"¹²C(n,γ)","x1":4757,"x2":4887,"y1":1.9,"y2":7.0,"xm":4822,"ym":3.65,"sx":4887,"tx":4928.8,"ty":0.48}
]
},
"vconcat": [
{
 "width": 1321, "height": 339,
 "title": "Gamma Spectrscopy 2000 - 3000 keV",
 "resolve": {"axis": {"x": "independent", "y": "independent"}},
 "layer": [
  {"data": {"name": "hpge"}, "mark": {"type": "line", "strokeWidth": 1.2, "clip": true},
   "encoding": {
    "x": {"field": "e", "type": "quantitative", "scale": {"domain": [2000, 3000], "nice": false, "zero": false},
      "axis": {"orient": "bottom", "values": [2000,2050,2100,2150,2200,2250,2300,2350,2400,2450,2500,2550,2600,2650,2700,2750,2800,2850,2900,2950,3000], "labelExpr": "datum.value % 100 === 0 ? '' + datum.value : ''", "grid": true, "gridOpacity": {"condition": {"test": "datum.value % 100 === 0", "value": 0.85}, "value": 0}, "labelPadding": 19, "title": "Energy (keV)", "titlePadding": 6}},
    "y": {"field": "v", "type": "quantitative", "scale": {"type": "log", "domain": [0.0002, 100], "nice": false},
      "axis": {"orient": "left", "values": [0.01, 1, 100], "labelExpr": "datum.value > 50 ? '10²' : (datum.value > 0.5 ? '10⁰' : '10⁻²')", "grid": true, "gridOpacity": 0.85, "labelPadding": 17, "title": "Counts [γ/s]", "titleFontSize": 26, "titlePadding": 2}},
    "color": {"datum": "HPGe", "type": "nominal", "scale": {"domain": ["HPGe", "MCNP", "Bkgrnd"], "range": ["#0000ff", "#000000", "#ff0000"]}, "legend": {"orient": "top-right"}}
   }},
  {"data": {"name": "mcnp1"}, "mark": {"type": "line", "strokeWidth": 1, "clip": true},
   "encoding": {"x": {"field": "e", "type": "quantitative", "axis": null}, "y": {"field": "v", "type": "quantitative", "axis": null}, "color": {"datum": "MCNP", "type": "nominal"}}},
  {"data": {"name": "bkg"}, "mark": {"type": "line", "strokeWidth": 1, "clip": true, "interpolate": "step", "invalid": "break-paths-filter-domains"},
   "encoding": {"x": {"field": "e", "type": "quantitative", "axis": null}, "y": {"field": "v", "type": "quantitative", "axis": null}, "color": {"datum": "Bkgrnd", "type": "nominal"}}},
  {"data": {"name": "bkg"}, "mark": {"type": "square", "size": 3, "color": "#ff0000", "filled": true, "opacity": 1, "clip": true},
   "encoding": {"x": {"field": "e", "type": "quantitative", "axis": null}, "y": {"field": "v", "type": "quantitative", "axis": null}}},
  {"data": {"name": "ann1"}, "mark": {"type": "rule", "color": "#000", "strokeWidth": 1},
   "encoding": {"x": {"field": "sx", "type": "quantitative", "axis": null}, "y": {"field": "y1", "type": "quantitative", "axis": null}, "x2": {"field": "tx"}, "y2": {"field": "ty"}}},
  {"data": {"name": "ann1"}, "mark": {"type": "point", "shape": "triangle", "filled": true, "color": "#000", "size": 70, "angle": 235, "opacity": 1},
   "encoding": {"x": {"field": "tx", "type": "quantitative", "axis": null}, "y": {"field": "ty", "type": "quantitative", "axis": null}}},
  {"data": {"name": "ann1"}, "mark": {"type": "rect", "fill": "white", "stroke": "#000", "strokeWidth": 1},
   "encoding": {"x": {"field": "x1", "type": "quantitative", "axis": null}, "x2": {"field": "x2"}, "y": {"field": "y1", "type": "quantitative", "axis": null}, "y2": {"field": "y2"}}},
  {"data": {"name": "ann1"}, "mark": {"type": "text", "font": "Liberation Sans", "fontSize": 21, "fontWeight": "bold", "color": "#000", "align": "center", "baseline": "middle"},
   "encoding": {"x": {"field": "xm", "type": "quantitative", "axis": null}, "y": {"field": "ym", "type": "quantitative", "axis": null}, "text": {"field": "t"}}},
  {"data": {"name": "mcnp1"}, "mark": {"type": "line", "opacity": 0},
   "encoding": {
    "x": {"field": "e", "type": "quantitative", "axis": {"orient": "top", "values": [2000,2050,2100,2150,2200,2250,2300,2350,2400,2450,2500,2550,2600,2650,2700,2750,2800,2850,2900,2950,3000], "labels": false, "grid": false, "title": null}},
    "y": {"field": "v", "type": "quantitative", "axis": {"orient": "right", "values": [0.01, 1, 100], "labels": false, "grid": false, "title": null}}}}
 ]
},
{
 "width": 1321, "height": 339,
 "title": "Gamma Spectrscopy 3000 - 5000 keV",
 "resolve": {"axis": {"x": "independent", "y": "independent"}},
 "layer": [
  {"data": {"name": "mcnp2"}, "mark": {"type": "line", "strokeWidth": 1, "clip": true},
   "encoding": {
    "x": {"field": "e", "type": "quantitative", "scale": {"domain": [3000, 5000], "nice": false, "zero": false},
      "axis": {"orient": "bottom", "values": [3000,3100,3200,3300,3400,3500,3600,3700,3800,3900,4000,4100,4200,4300,4400,4500,4600,4700,4800,4900,5000], "labelExpr": "datum.value % 200 === 0 ? '' + datum.value : ''", "grid": true, "gridOpacity": {"condition": {"test": "datum.value % 200 === 0", "value": 0.85}, "value": 0}, "labelPadding": 19, "title": "Energy (keV)", "titlePadding": 6}},
    "y": {"field": "v", "type": "quantitative", "scale": {"type": "log", "domain": [0.0002, 10], "nice": false},
      "axis": {"orient": "left", "values": [0.01, 1], "labelExpr": "datum.value > 0.5 ? '10⁰' : '10⁻²'", "grid": true, "gridOpacity": 0.85, "labelPadding": 17, "title": "Counts [γ/s]", "titleFontSize": 26, "titlePadding": 2}},
    "color": {"datum": "MCNP", "type": "nominal", "scale": {"domain": ["HPGe", "MCNP", "Bkgrnd"], "range": ["#0000ff", "#000000", "#ff0000"]}, "legend": {"orient": "top-left"}}
   }},
  {"data": {"name": "ann2"}, "mark": {"type": "rule", "color": "#000", "strokeWidth": 1},
   "encoding": {"x": {"field": "sx", "type": "quantitative", "axis": null}, "y": {"field": "y1", "type": "quantitative", "axis": null}, "x2": {"field": "tx"}, "y2": {"field": "ty"}}},
  {"data": {"values": [{"x": 3556.8, "y": 0.482}]}, "mark": {"type": "point", "shape": "triangle", "filled": true, "color": "#000", "size": 70, "angle": 209.5, "opacity": 1},
   "encoding": {"x": {"field": "x", "type": "quantitative", "axis": null}, "y": {"field": "y", "type": "quantitative", "axis": null}}},
  {"data": {"values": [{"x": 4426.1, "y": 0.473}]}, "mark": {"type": "point", "shape": "triangle", "filled": true, "color": "#000", "size": 70, "angle": 139.3, "opacity": 1},
   "encoding": {"x": {"field": "x", "type": "quantitative", "axis": null}, "y": {"field": "y", "type": "quantitative", "axis": null}}},
  {"data": {"values": [{"x": 4928.8, "y": 0.48}]}, "mark": {"type": "point", "shape": "triangle", "filled": true, "color": "#000", "size": 70, "angle": 147.6, "opacity": 1},
   "encoding": {"x": {"field": "x", "type": "quantitative", "axis": null}, "y": {"field": "y", "type": "quantitative", "axis": null}}},
  {"data": {"name": "ann2"}, "mark": {"type": "rect", "fill": "white", "stroke": "#000", "strokeWidth": 1},
   "encoding": {"x": {"field": "x1", "type": "quantitative", "axis": null}, "x2": {"field": "x2"}, "y": {"field": "y1", "type": "quantitative", "axis": null}, "y2": {"field": "y2"}}},
  {"data": {"name": "ann2"}, "mark": {"type": "text", "font": "Liberation Sans", "fontSize": 21, "fontWeight": "bold", "color": "#000", "align": "center", "baseline": "middle"},
   "encoding": {"x": {"field": "xm", "type": "quantitative", "axis": null}, "y": {"field": "ym", "type": "quantitative", "axis": null}, "text": {"field": "t"}}},
  {"data": {"name": "mcnp2"}, "mark": {"type": "line", "opacity": 0},
   "encoding": {
    "x": {"field": "e", "type": "quantitative", "axis": {"orient": "top", "values": [3000,3100,3200,3300,3400,3500,3600,3700,3800,3900,4000,4100,4200,4300,4400,4500,4600,4700,4800,4900,5000], "labels": false, "grid": false, "title": null}},
    "y": {"field": "v", "type": "quantitative", "axis": {"orient": "right", "values": [0.01, 1], "labels": false, "grid": false, "title": null}}}}
 ]
}
],
"resolve": {"scale": {"x": "independent", "y": "independent", "color": "independent"}, "legend": {"color": "independent"}}
}
